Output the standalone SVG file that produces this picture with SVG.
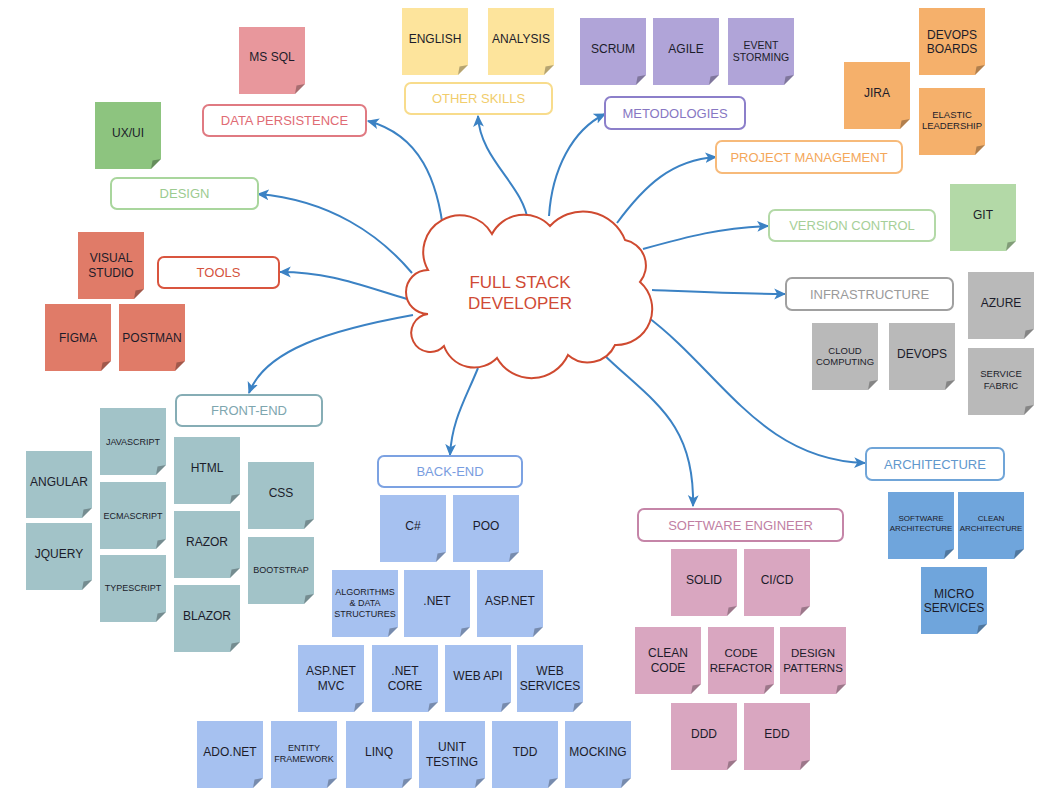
<svg xmlns="http://www.w3.org/2000/svg" xmlns:xlink="http://www.w3.org/1999/xlink" width="1053" height="812" viewBox="0 0 1053 812">
<style>
.lbl rect{fill:#fff;stroke-width:2}
.lbl text{font-family:"Liberation Sans",Arial,sans-serif;font-size:13px;text-anchor:middle}
.n text{font-family:"Liberation Sans",Arial,sans-serif;font-size:12px;text-anchor:middle;fill:#1c1c2a}
.n text.s{font-size:9px}
.n text.m{font-size:10px}
.conn path{fill:none;stroke:#3b82c4;stroke-width:2;marker-end:url(#arr)}
.hub text{font-family:"Liberation Sans",Arial,sans-serif;font-size:17px;fill:#d04a35;text-anchor:middle}
</style>
<defs>
<marker id="arr" viewBox="0 0 10 10" refX="9" refY="5" markerWidth="12" markerHeight="12" markerUnits="userSpaceOnUse" orient="auto">
<path d="M0 0.5L10 5L0 9.5L2.5 5Z" fill="#3b82c4"/>
</marker>
<g id="note">
<path d="M0 0H66V57L56 67H0Z"/>
<path d="M66 57L56 67L57.5 58.5Z" fill="#000" fill-opacity="0.28"/>
</g>
</defs>
<rect width="1053" height="812" fill="#fff"/>

<g id="connectors" class="conn">
<path d="M444 236C438 180 420 135 368 121"/>
<path d="M528 222C524 185 480 160 478 116"/>
<path d="M549 216C552 170 572 130 605 114"/>
<path d="M617 223C645 185 672 160 716 157"/>
<path d="M643 249C690 236 720 228 768 226"/>
<path d="M652 290C700 292 740 294 785 294"/>
<path d="M645 315C720 370 760 460 865 463"/>
<path d="M602 353C650 400 695 420 693 506"/>
<path d="M478 368C465 400 452 420 450 455"/>
<path d="M413 315C330 330 265 350 249 393"/>
<path d="M407 299C360 285 330 272 280 272"/>
<path d="M412 273C380 235 330 200 258 194"/>
</g>

<g id="hub" class="hub">
<path d="M428 314A22 22 0 0 1 428 270A36 36 0 0 1 492 234A36 36 0 0 1 550 226A45 45 0 0 1 625 240A26 26 0 0 1 640 282A36 36 0 0 1 615 345A30 30 0 0 1 568 355A40 40 0 0 1 497 358A32 32 0 0 1 444 346A19 19 0 1 1 428 314Z" fill="#fff" stroke="#cf4a30" stroke-width="2"/>
<text x="520" y="288">FULL STACK</text>
<text x="520" y="309">DEVELOPER</text>
</g>

<!-- DATA PERSISTENCE -->
<g id="data-persistence">
<g class="lbl"><rect x="203" y="105" width="163" height="31" rx="6" stroke="#e07a82"/><text x="284.5" y="125" fill="#df6b74">DATA PERSISTENCE</text></g>
<g id="n-mssql" class="n"><use xlink:href="#note" x="239" y="27" fill="#e8979c"/><text x="272" y="61">MS SQL</text></g>
</g>

<!-- OTHER SKILLS -->
<g id="other-skills">
<g class="lbl"><rect x="405" y="83" width="147" height="31" rx="6" stroke="#f8dc8c"/><text x="478.5" y="103" fill="#f1cd6c">OTHER SKILLS</text></g>
<g id="n-english" class="n"><use xlink:href="#note" x="402" y="8" fill="#fde49c"/><text x="435" y="43">ENGLISH</text></g>
<g id="n-analysis" class="n"><use xlink:href="#note" x="488" y="8" fill="#fde49c"/><text x="521" y="43">ANALYSIS</text></g>
</g>

<!-- METODOLOGIES -->
<g id="metodologies">
<g class="lbl"><rect x="605" y="97" width="140" height="32" rx="6" stroke="#8c7fca"/><text x="675" y="118" fill="#8777c3">METODOLOGIES</text></g>
<g id="n-scrum" class="n"><use xlink:href="#note" x="580" y="18" fill="#b0a4d8"/><text x="613" y="53">SCRUM</text></g>
<g id="n-agile" class="n"><use xlink:href="#note" x="653" y="18" fill="#b0a4d8"/><text x="686" y="53">AGILE</text></g>
<g id="n-event" class="n"><use xlink:href="#note" x="728" y="18" fill="#b0a4d8"/><text x="761" y="49" class="m" style="font-size:10.5px">EVENT</text><text x="761" y="61" class="m" style="font-size:10.5px">STORMING</text></g>
</g>

<!-- PROJECT MANAGEMENT -->
<g id="project-management">
<g class="lbl"><rect x="716" y="141" width="186" height="32" rx="6" stroke="#f7ba7a"/><text x="809" y="162" fill="#f4a75a">PROJECT MANAGEMENT</text></g>
<g id="n-jira" class="n"><use xlink:href="#note" x="844" y="62" fill="#f5b06b"/><text x="877" y="97">JIRA</text></g>
<g id="n-devopsboards" class="n"><use xlink:href="#note" x="919" y="8" fill="#f5b06b"/><text x="952" y="39">DEVOPS</text><text x="952" y="53">BOARDS</text></g>
<g id="n-elastic" class="n"><use xlink:href="#note" x="919" y="88" fill="#f5b06b"/><text x="952" y="118" style="font-size:9.5px">ELASTIC</text><text x="952" y="129" style="font-size:9.5px">LEADERSHIP</text></g>
</g>

<!-- DESIGN -->
<g id="design">
<g class="lbl"><rect x="111" y="178" width="147" height="31" rx="6" stroke="#a9d69d"/><text x="184.5" y="198" fill="#9ccb90">DESIGN</text></g>
<g id="n-uxui" class="n"><use xlink:href="#note" x="95" y="102" fill="#8dc47f"/><text x="128" y="137">UX/UI</text></g>
</g>

<!-- VERSION CONTROL -->
<g id="version-control">
<g class="lbl"><rect x="769" y="210" width="166" height="31" rx="6" stroke="#b3d9a7"/><text x="852" y="230" fill="#a6cf98">VERSION CONTROL</text></g>
<g id="n-git" class="n"><use xlink:href="#note" x="950" y="184" fill="#b3d9a7"/><text x="983" y="219">GIT</text></g>
</g>

<!-- TOOLS -->
<g id="tools">
<g class="lbl"><rect x="158" y="257" width="121" height="31" rx="6" stroke="#d9553f"/><text x="218.5" y="277" fill="#d5533e">TOOLS</text></g>
<g id="n-vs" class="n"><use xlink:href="#note" x="78" y="232" fill="#e07b68"/><text x="111" y="262">VISUAL</text><text x="111" y="277">STUDIO</text></g>
<g id="n-figma" class="n"><use xlink:href="#note" x="45" y="304" fill="#e07b68"/><text x="78" y="342">FIGMA</text></g>
<g id="n-postman" class="n"><use xlink:href="#note" x="119" y="304" fill="#e07b68"/><text x="152" y="342">POSTMAN</text></g>
</g>

<!-- INFRASTRUCTURE -->
<g id="infrastructure">
<g class="lbl"><rect x="786" y="278" width="167" height="32" rx="6" stroke="#a0a0a0"/><text x="869.5" y="299" fill="#9a9a9a">INFRASTRUCTURE</text></g>
<g id="n-azure" class="n"><use xlink:href="#note" x="968" y="272" fill="#b9b9b9"/><text x="1001" y="307">AZURE</text></g>
<g id="n-fabric" class="n"><use xlink:href="#note" x="968" y="348" fill="#b9b9b9"/><text x="1001" y="377" style="font-size:9.5px">SERVICE</text><text x="1001" y="389" style="font-size:9.5px">FABRIC</text></g>
<g id="n-cloud" class="n"><use xlink:href="#note" x="812" y="323" fill="#b9b9b9"/><text x="845" y="354" style="font-size:9.5px">CLOUD</text><text x="845" y="365" style="font-size:9.5px">COMPUTING</text></g>
<g id="n-devops" class="n"><use xlink:href="#note" x="889" y="323" fill="#b9b9b9"/><text x="922" y="358">DEVOPS</text></g>
</g>

<!-- ARCHITECTURE -->
<g id="architecture">
<g class="lbl"><rect x="866" y="448" width="138" height="32" rx="6" stroke="#70a5d8"/><text x="935" y="469" fill="#6198cd">ARCHITECTURE</text></g>
<g id="n-swarch" class="n"><use xlink:href="#note" x="888" y="492" fill="#6fa5dc"/><text x="921" y="521" style="font-size:8px">SOFTWARE</text><text x="921" y="531" style="font-size:8px">ARCHITECTURE</text></g>
<g id="n-cleanarch" class="n"><use xlink:href="#note" x="958" y="492" fill="#6fa5dc"/><text x="991" y="521" style="font-size:8px">CLEAN</text><text x="991" y="531" style="font-size:8px">ARCHITECTURE</text></g>
<g id="n-micro" class="n"><use xlink:href="#note" x="921" y="567" fill="#6fa5dc"/><text x="954" y="598">MICRO</text><text x="954" y="612">SERVICES</text></g>
</g>

<!-- FRONT-END -->
<g id="front-end">
<g class="lbl"><rect x="176" y="395" width="146" height="31" rx="6" stroke="#86adb5"/><text x="249" y="415" fill="#7ea6af">FRONT-END</text></g>
<g id="n-angular" class="n"><use xlink:href="#note" x="26" y="451" fill="#a2c3c8"/><text x="59" y="486">ANGULAR</text></g>
<g id="n-jquery" class="n"><use xlink:href="#note" x="26" y="523" fill="#a2c3c8"/><text x="59" y="558">JQUERY</text></g>
<g id="n-js" class="n"><use xlink:href="#note" x="100" y="408" fill="#a2c3c8"/><text x="133" y="445" class="s">JAVASCRIPT</text></g>
<g id="n-ecma" class="n"><use xlink:href="#note" x="100" y="482" fill="#a2c3c8"/><text x="133" y="519" class="s">ECMASCRIPT</text></g>
<g id="n-ts" class="n"><use xlink:href="#note" x="100" y="555" fill="#a2c3c8"/><text x="133" y="591" class="s">TYPESCRIPT</text></g>
<g id="n-html" class="n"><use xlink:href="#note" x="174" y="437" fill="#a2c3c8"/><text x="207" y="472">HTML</text></g>
<g id="n-razor" class="n"><use xlink:href="#note" x="174" y="511" fill="#a2c3c8"/><text x="207" y="546">RAZOR</text></g>
<g id="n-blazor" class="n"><use xlink:href="#note" x="174" y="585" fill="#a2c3c8"/><text x="207" y="620">BLAZOR</text></g>
<g id="n-css" class="n"><use xlink:href="#note" x="248" y="462" fill="#a2c3c8"/><text x="281" y="497">CSS</text></g>
<g id="n-bootstrap" class="n"><use xlink:href="#note" x="248" y="537" fill="#a2c3c8"/><text x="281" y="573" class="s">BOOTSTRAP</text></g>
</g>

<!-- BACK-END -->
<g id="back-end">
<g class="lbl"><rect x="378" y="456" width="144" height="31" rx="6" stroke="#7ca2e2"/><text x="450" y="476" fill="#789de0">BACK-END</text></g>
<g id="n-csharp" class="n"><use xlink:href="#note" x="380" y="495" fill="#a6c1f0"/><text x="413" y="530">C#</text></g>
<g id="n-poo" class="n"><use xlink:href="#note" x="453" y="495" fill="#a6c1f0"/><text x="486" y="530">POO</text></g>
<g id="n-algo" class="n"><use xlink:href="#note" x="332" y="570" fill="#a6c1f0"/><text x="365" y="595" class="s">ALGORITHMS</text><text x="365" y="606" class="s">&amp; DATA</text><text x="365" y="617" class="s">STRUCTURES</text></g>
<g id="n-net" class="n"><use xlink:href="#note" x="404" y="570" fill="#a6c1f0"/><text x="437" y="605">.NET</text></g>
<g id="n-aspnet" class="n"><use xlink:href="#note" x="477" y="570" fill="#a6c1f0"/><text x="510" y="605">ASP.NET</text></g>
<g id="n-mvc" class="n"><use xlink:href="#note" x="298" y="645" fill="#a6c1f0"/><text x="331" y="675">ASP.NET</text><text x="331" y="690">MVC</text></g>
<g id="n-netcore" class="n"><use xlink:href="#note" x="372" y="645" fill="#a6c1f0"/><text x="405" y="675">.NET</text><text x="405" y="690">CORE</text></g>
<g id="n-webapi" class="n"><use xlink:href="#note" x="445" y="645" fill="#a6c1f0"/><text x="478" y="680">WEB API</text></g>
<g id="n-websvc" class="n"><use xlink:href="#note" x="517" y="645" fill="#a6c1f0"/><text x="550" y="675">WEB</text><text x="550" y="690">SERVICES</text></g>
<g id="n-adonet" class="n"><use xlink:href="#note" x="197" y="721" fill="#a6c1f0"/><text x="230" y="756">ADO.NET</text></g>
<g id="n-ef" class="n"><use xlink:href="#note" x="271" y="721" fill="#a6c1f0"/><text x="304" y="751" class="s">ENTITY</text><text x="304" y="762" class="s">FRAMEWORK</text></g>
<g id="n-linq" class="n"><use xlink:href="#note" x="346" y="721" fill="#a6c1f0"/><text x="379" y="756">LINQ</text></g>
<g id="n-unit" class="n"><use xlink:href="#note" x="419" y="721" fill="#a6c1f0"/><text x="452" y="751">UNIT</text><text x="452" y="766">TESTING</text></g>
<g id="n-tdd" class="n"><use xlink:href="#note" x="492" y="721" fill="#a6c1f0"/><text x="525" y="756">TDD</text></g>
<g id="n-mocking" class="n"><use xlink:href="#note" x="565" y="721" fill="#a6c1f0"/><text x="598" y="756">MOCKING</text></g>
</g>

<!-- SOFTWARE ENGINEER -->
<g id="software-engineer">
<g class="lbl"><rect x="638" y="509" width="205" height="32" rx="6" stroke="#c585a8"/><text x="740.5" y="530" fill="#c17fa3">SOFTWARE ENGINEER</text></g>
<g id="n-solid" class="n"><use xlink:href="#note" x="671" y="549" fill="#d9a6c0"/><text x="704" y="584">SOLID</text></g>
<g id="n-cicd" class="n"><use xlink:href="#note" x="744" y="549" fill="#d9a6c0"/><text x="777" y="584">CI/CD</text></g>
<g id="n-cleancode" class="n"><use xlink:href="#note" x="635" y="627" fill="#d9a6c0"/><text x="668" y="657">CLEAN</text><text x="668" y="672">CODE</text></g>
<g id="n-refactor" class="n"><use xlink:href="#note" x="708" y="627" fill="#d9a6c0"/><text x="741" y="657" style="font-size:11.5px">CODE</text><text x="741" y="672" style="font-size:11.5px">REFACTOR</text></g>
<g id="n-patterns" class="n"><use xlink:href="#note" x="780" y="627" fill="#d9a6c0"/><text x="813" y="657" style="font-size:11.5px">DESIGN</text><text x="813" y="672" style="font-size:11.5px">PATTERNS</text></g>
<g id="n-ddd" class="n"><use xlink:href="#note" x="671" y="703" fill="#d9a6c0"/><text x="704" y="738">DDD</text></g>
<g id="n-edd" class="n"><use xlink:href="#note" x="744" y="703" fill="#d9a6c0"/><text x="777" y="738">EDD</text></g>
</g>
</svg>
